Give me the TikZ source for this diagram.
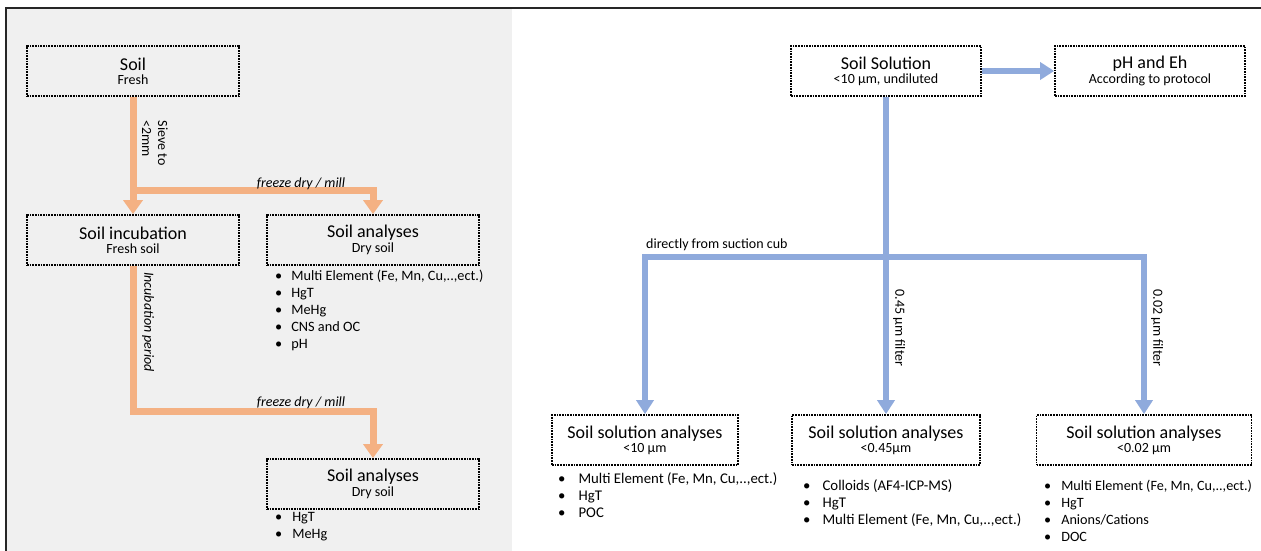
\documentclass[tikz,border=0pt]{standalone}
\usepackage{fontspec}
\setmainfont{Carlito}
\usetikzlibrary{arrows.meta}

\definecolor{soilorange}{HTML}{F4B183}
\definecolor{solblue}{HTML}{8FAADC}
\definecolor{panelgray}{HTML}{F0F0F0}

% two-line box caption: title and subtitle
\newcommand\boxcap[2]{{\fontsize{18}{20}\selectfont #1}\\[2pt]{\fontsize{14}{16}\selectfont #2}}
% bulleted list set as a two-column table: font size, gap, rows
\newcommand\bulletlist[3]{{\fontsize{#1}{17}\selectfont\begin{tabular}{@{}l@{\hspace{#2}}l@{}}#3\end{tabular}}}

\begin{document}
\begin{tikzpicture}[x=1pt,y=-1pt,
  stagebox/.style={draw=black, densely dotted, line width=1.7pt, minimum height=50pt,
                   align=center, inner sep=0pt},
  orflow/.style={draw=soilorange, line width=7pt, line join=miter,
                 -{Triangle[width=19pt,length=14pt]}},
  blline/.style={draw=solblue, line width=5.5pt, line join=miter},
  blflow/.style={blline, -{Triangle[width=17pt,length=14pt]}},
  flowlabel/.style={font=\fontsize{14}{16}\selectfont, inner sep=0pt},
  listnode/.style={anchor=north west, inner sep=0pt}]

% page, left panel and frame
\useasboundingbox (0,0) rectangle (1261,551);
\fill[white] (0,0) rectangle (1261,551);
\fill[panelgray] (7,9) rectangle (512,551);
\draw[line width=2.5pt, black!85] (6,551) -- (6,8) -- (1261,8);

% ---------- soil branch ----------
\node[stagebox, minimum width=212pt] (soil)  at (133,71)  {\boxcap{Soil}{Fresh}};
\node[stagebox, minimum width=212pt] (incub) at (133,240) {\boxcap{Soil incubation}{Fresh soil}};
\node[stagebox, minimum width=212pt] (dryA)  at (373,240) {\boxcap{Soil analyses}{Dry soil}};
\node[stagebox, minimum width=212pt] (dryB)  at (373,484) {\boxcap{Soil analyses}{Dry soil}};

\coordinate (sieveSplit) at (133,190);
\coordinate (incubTurn)  at (133,411);

\draw[orflow] (soil.south) -- (incub.north);
\draw[orflow] (sieveSplit) -| (dryA.north);
\draw[orflow] (incub.south) -- (incubTurn) -| (dryB.north);

\node[flowlabel, rotate=-90, align=left] (sieveLbl) at (155,143) {Sieve to\\{<}2mm};
\node[flowlabel, anchor=south] (fdA) at (301,190) {\itshape freeze dry / mill};
\node[flowlabel, rotate=-90] (incLbl) at (148,322) {\itshape Incubation period};
\node[flowlabel, anchor=south] (fdB) at (301,409) {\itshape freeze dry / mill};

\node[listnode] (listA) at (275,268) {\bulletlist{14.3}{9pt}{%
  \textbullet & Multi Element (Fe, Mn, Cu,..,ect.)\\
  \textbullet & HgT\\
  \textbullet & MeHg\\
  \textbullet & CNS and OC\\
  \textbullet & pH}};
\node[listnode] (listB) at (275,509) {\bulletlist{14.3}{10pt}{%
  \textbullet & HgT\\
  \textbullet & MeHg}};

% ---------- soil solution branch ----------
\node[stagebox, minimum width=190pt] (sol) at (886,71)  {\boxcap{Soil Solution}{<10 µm, undiluted}};
\node[stagebox, minimum width=190pt] (phe) at (1150,71) {\boxcap{pH and Eh}{According to protocol}};

\node[stagebox, minimum width=186pt] (ssA) at (645,440)  {\boxcap{Soil solution analyses}{<10 µm}};
\node[stagebox, minimum width=188pt] (ssB) at (886,440)  {\boxcap{Soil solution analyses}{<0.45µm}};
\node[stagebox, minimum width=215pt] (ssC) at (1144,440) {\boxcap{Soil solution analyses}{<0.02 µm}};

\coordinate (hub) at (886,257);

\draw[blflow] (sol.east) -- (phe.west);
\draw[blflow] (sol.south) -- (ssB.north);
\draw[blflow] (hub) -| (ssA.north);
\draw[blflow] (hub) -| (ssC.north);

\node[flowlabel, anchor=south west] (suction) at (646,251) {directly from suction cub};
\node[flowlabel, rotate=-90] (f045) at (899,328) {0.45 µm filter};
\node[flowlabel, rotate=-90] (f002) at (1157,328) {0.02 µm filter};

\node[listnode] (listC) at (558,471) {\bulletlist{14.8}{13pt}{%
  \textbullet & Multi Element (Fe, Mn, Cu,..,ect.)\\
  \textbullet & HgT\\
  \textbullet & POC}};
\node[listnode] (listD) at (803,478) {\bulletlist{14.8}{12pt}{%
  \textbullet & Colloids (AF4-ICP-MS)\\
  \textbullet & HgT\\
  \textbullet & Multi Element (Fe, Mn, Cu,..,ect.)}};
\node[listnode] (listE) at (1044,478) {\bulletlist{14.2}{10pt}{%
  \textbullet & Multi Element (Fe, Mn, Cu,..,ect.)\\
  \textbullet & HgT\\
  \textbullet & Anions/Cations\\
  \textbullet & DOC}};
\end{tikzpicture}
\end{document}
